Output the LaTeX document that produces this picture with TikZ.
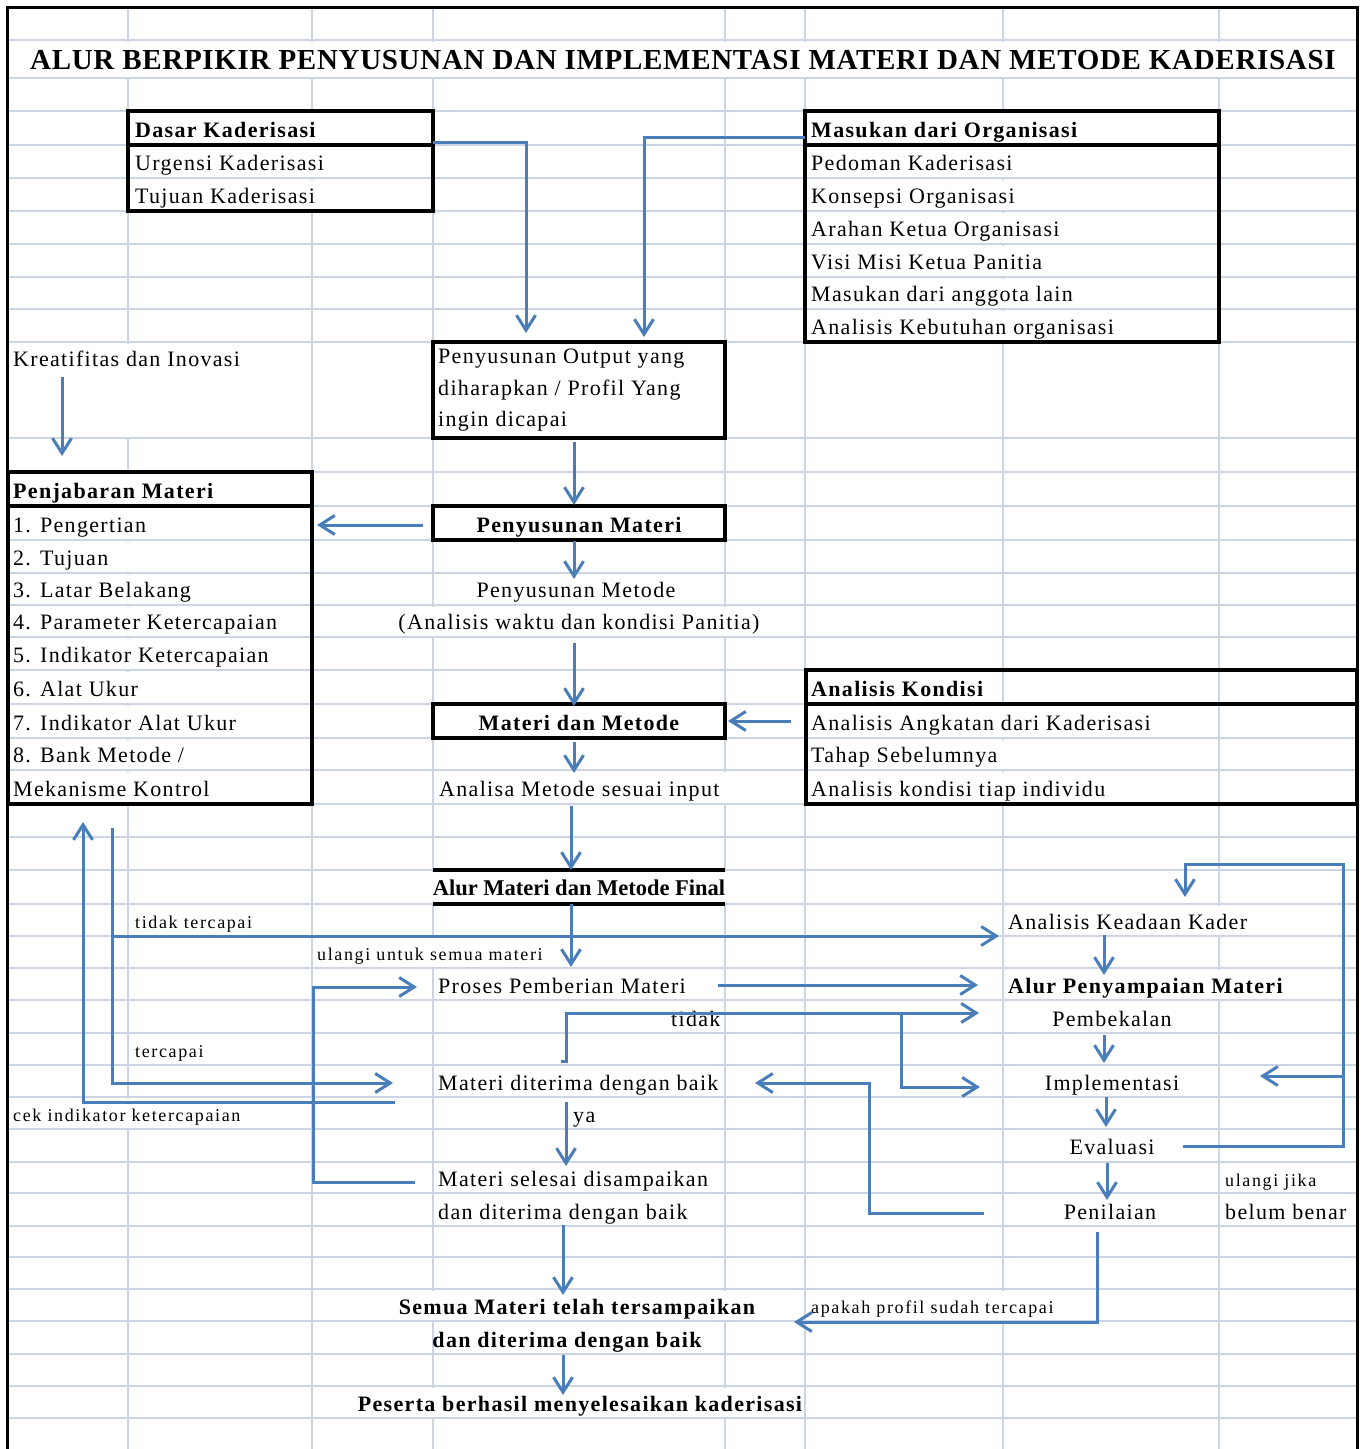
\documentclass[tikz,border=0pt]{standalone}
\usepackage{fontspec}
\setmainfont{Liberation Serif}
\newfontfamily\nf[LetterSpace=6]{Liberation Serif}
\newfontfamily\smf[LetterSpace=9]{Liberation Serif}
\newfontfamily\ttlf[LetterSpace=2.4]{Liberation Serif}
\newfontfamily\plf{Liberation Serif}
\usetikzlibrary{arrows.meta}
\definecolor{gridc}{HTML}{CCD5E4}
\definecolor{arrc}{HTML}{4A7EBB}
\newcommand\msk[4]{\fill[white] (#1,#3+1.5) rectangle (#2,#4-1.5);}
\tikzset{
  gridline/.style={draw=gridc, line width=2.2pt},
  boxn/.style={draw=black, line width=3.2pt, inner sep=0pt, outer sep=0pt, anchor=north west},
  boxline/.style={draw=black, line width=3.2pt},
  txt/.style={inner sep=0pt, anchor=base west, font=\nf\fontsize{22}{26}\selectfont},
  txtc/.style={txt, anchor=base},
  bld/.style={inner sep=0pt, anchor=base west, font=\nf\bfseries\fontsize{22}{26}\selectfont},
  bldc/.style={bld, anchor=base},
  sml/.style={inner sep=0pt, anchor=base west, font=\smf\fontsize{18}{22}\selectfont},
  arr/.style={draw=arrc, line width=3pt, -{Straight Barb[length=15pt,width=19pt,line width=3pt]}}
}
\begin{document}
\begin{tikzpicture}[x=1pt,y=-1pt]
\useasboundingbox (0,0) rectangle (1367,1449);
\fill[white] (0,0) rectangle (1367,1449);
% ---------- grid ----------
\foreach \y in {40,78,111,145,178,211,244,277,309,342,438,472,506,540,573,605,637,670,704,738,770,804,837,870,904,936,968,1000,1033,1065,1097,1129,1162,1193,1226,1257,1289,1321,1354,1386,1418}
  \draw[gridline] (7,\y) -- (1357,\y);
\foreach \x in {128,312,433,725,805,1003,1219}
  \draw[gridline] (\x,7) -- (\x,1449);
% ---------- hidden grid parts (overflowing text / merged cells) ----------
\msk{9}{1355}{40}{78}
\foreach \a/\b in {111/145,145/178,178/211} {\msk{300}{325}{\a}{\b}}
\foreach \a/\b in {111/145,145/178,178/211,211/244,244/277,277/309,309/342} {\msk{990}{1015}{\a}{\b}}
\msk{115}{140}{342}{438}
\foreach \a/\b in {472/506,506/540,540/573,573/605,605/637,637/670,670/704,704/738,738/770,770/804} {\msk{115}{140}{\a}{\b}}
\msk{420}{445}{605}{637}
\msk{712}{738}{605}{637}
\msk{712}{738}{770}{804}
\foreach \a/\b in {704/738,738/770,770/804} {\msk{990}{1015}{\a}{\b}}
\msk{420}{738}{870}{904}
\msk{1206}{1232}{904}{936}
\msk{420}{445}{936}{968}
\msk{1206}{1232}{968}{1000}
\msk{115}{140}{1097}{1129}
\msk{420}{445}{1289}{1321}
\msk{712}{738}{1289}{1321}
\msk{990}{1015}{1289}{1321}
\msk{420}{445}{1386}{1418}
\msk{712}{738}{1386}{1418}
% ---------- sheet border ----------
\draw[line width=3pt] (7,1449) -- (7,7) -- (1357,7) -- (1357,1449);
% ---------- title ----------
\node[inner sep=0pt, anchor=base, font=\ttlf\bfseries\fontsize{29}{33}\selectfont] (title) at (683,69)
  {ALUR BERPIKIR PENYUSUNAN DAN IMPLEMENTASI MATERI DAN METODE KADERISASI};
% ---------- boxes ----------
\node[boxn, minimum width=305pt, minimum height=100pt] (dasar) at (128,111) {};
\draw[boxline] (128,145) -- (433,145);
\node[boxn, minimum width=414pt, minimum height=231pt] (masukan) at (805,111) {};
\draw[boxline] (805,145) -- (1219,145);
\node[boxn, minimum width=292pt, minimum height=96pt] (output) at (433,342) {};
\node[boxn, minimum width=304pt, minimum height=332pt] (penjabaran) at (8,472) {};
\draw[boxline] (8,506) -- (312,506);
\node[boxn, minimum width=292pt, minimum height=34pt] (penymateri) at (433,506) {};
\node[boxn, minimum width=292pt, minimum height=34pt] (mdm) at (433,704) {};
\node[boxn, minimum width=551pt, minimum height=134pt] (akondisi) at (806,670) {};
\draw[boxline] (806,704) -- (1357,704);
\draw[line width=3.6pt] (433,870) -- (725,870);
\draw[line width=3.6pt] (433,904) -- (725,904);
% ---------- texts ----------
\node[bld] (dasarH) at (135,137) {Dasar Kaderisasi};
\node[txt] (urg) at (135,170) {Urgensi Kaderisasi};
\node[txt] (tuj) at (135,203) {Tujuan Kaderisasi};
\node[bld] (masH) at (811,137) {Masukan dari Organisasi};
\node[txt] (m1) at (811,170) {Pedoman Kaderisasi};
\node[txt] (m2) at (811,203) {Konsepsi Organisasi};
\node[txt] (m3) at (811,236) {Arahan Ketua Organisasi};
\node[txt] (m4) at (811,269) {Visi Misi Ketua Panitia};
\node[txt] (m5) at (811,301) {Masukan dari anggota lain};
\node[txt] (m6) at (811,334) {Analisis Kebutuhan organisasi};
\node[txt] (kreatif) at (13,366) {Kreatifitas dan Inovasi};
\node[txt] (o1) at (438,363) {Penyusunan Output yang};
\node[txt] (o2) at (438,395) {diharapkan / Profil Yang};
\node[txt] (o3) at (438,426) {ingin dicapai};
\node[bld] (pjH) at (13,498) {Penjabaran Materi};
\node[txt] (p1) at (13,532) {1. Pengertian};
\node[txt] (p2) at (13,565) {2. Tujuan};
\node[txt] (p3) at (13,597) {3. Latar Belakang};
\node[txt] (p4) at (13,629) {4. Parameter Ketercapaian};
\node[txt] (p5) at (13,662) {5. Indikator Ketercapaian};
\node[txt] (p6) at (13,696) {6. Alat Ukur};
\node[txt] (p7) at (13,730) {7. Indikator Alat Ukur};
\node[txt] (p8) at (13,762) {8. Bank Metode /};
\node[txt] (p9) at (13,796) {Mekanisme Kontrol};
\node[bldc] (pmT) at (579,532) {Penyusunan Materi};
\node[txtc] (metode) at (576,597) {Penyusunan Metode};
\node[txtc] (metode2) at (579,629) {(Analisis waktu dan kondisi Panitia)};
\node[bldc] (mdmT) at (579,730) {Materi dan Metode};
\node[txt] (analisa) at (439,796) {Analisa Metode sesuai input};
\node[bld] (akH) at (811,696) {Analisis Kondisi};
\node[txt] (ak1) at (811,730) {Analisis Angkatan dari Kaderisasi};
\node[txt] (ak2) at (811,762) {Tahap Sebelumnya};
\node[txt] (ak3) at (811,796) {Analisis kondisi tiap individu};
\node[inner sep=0pt, anchor=base, font=\plf\bfseries\fontsize{22.5}{26}\selectfont] (alur) at (579,895) {Alur Materi dan Metode Final};
\node[sml] (ttc) at (135,928) {tidak tercapai};
\node[txt] (keadaan) at (1008,929) {Analisis Keadaan Kader};
\node[sml] (ulang) at (317,960) {ulangi untuk semua materi};
\node[txt] (proses) at (438,993) {Proses Pemberian Materi};
\node[bld] (alurp) at (1008,993) {Alur Penyampaian Materi};
\node[txt] (tidak) at (671,1026) {tidak};
\node[txtc] (pembek) at (1112,1026) {Pembekalan};
\node[sml] (tc) at (135,1057) {tercapai};
\node[txt] (diterima) at (438,1090) {Materi diterima dengan baik};
\node[txtc] (impl) at (1112,1090) {Implementasi};
\node[sml] (cek) at (13,1121) {cek indikator ketercapaian};
\node[txt] (ya) at (573,1122) {ya};
\node[txtc] (eval) at (1112,1154) {Evaluasi};
\node[sml] (ulangij) at (1225,1186) {ulangi jika};
\node[txt] (selesai) at (438,1186) {Materi selesai disampaikan};
\node[txt] (selesai2) at (438,1219) {dan diterima dengan baik};
\node[txtc] (nilai) at (1110,1219) {Penilaian};
\node[txt] (belum) at (1225,1219) {belum benar};
\node[bldc] (semua) at (577,1314) {Semua Materi telah tersampaikan};
\node[sml] (apakah) at (811,1313) {apakah profil sudah tercapai};
\node[bldc] (semua2) at (567,1347) {dan diterima dengan baik};
\node[bldc] (peserta) at (580,1411) {Peserta berhasil menyelesaikan kaderisasi};
% ---------- connector end points ----------
\coordinate (dasarOut) at (433,142);
\coordinate (outIn1) at (526,333);
\coordinate (masOut) at (805,137);
\coordinate (outIn2) at (644,337);
\coordinate (krOut) at (62,377);
\coordinate (pjIn) at (62,456);
\coordinate (outBot) at (574,442);
\coordinate (pmTop) at (574,505);
\coordinate (pmLeft) at (423,525);
\coordinate (pjRight) at (317,525);
\coordinate (pmBot) at (574,541);
\coordinate (metTop) at (574,579);
\coordinate (metBot) at (574,643);
\coordinate (mdmTop) at (574,706);
\coordinate (akOut) at (791,721);
\coordinate (mdmRight) at (728,721);
\coordinate (mdmBot) at (574,742);
\coordinate (anTop) at (574,773);
\coordinate (anBot) at (571,806);
\coordinate (alTop) at (571,870);
\coordinate (alBot) at (571,904);
\coordinate (prTop) at (571,967);
\coordinate (pjBot) at (112,828);
\coordinate (ditLeft) at (393,1083);
\coordinate (brT) at (112,936);
\coordinate (kdLeft) at (999,936);
\coordinate (cekS) at (395,1102);
\coordinate (pjBot2) at (83,822);
\coordinate (selLeft) at (415,1182);
\coordinate (loopC) at (313,987);
\coordinate (prLeft) at (417,987);
\coordinate (prRight) at (718,985);
\coordinate (apLeft) at (978,985);
\coordinate (tdS) at (561,1061);
\coordinate (tdS2) at (566,1061);
\coordinate (pbLeft) at (979,1013);
\coordinate (tdBr) at (901,1013);
\coordinate (imLeft) at (980,1087);
\coordinate (ditBot) at (566,1102);
\coordinate (selTop) at (566,1166);
\coordinate (nlLeft) at (984,1213);
\coordinate (nlC) at (869,1083);
\coordinate (ditRight) at (755,1083);
\coordinate (selBot) at (563,1225);
\coordinate (smTop) at (563,1295);
\coordinate (smBot) at (563,1355);
\coordinate (psTop) at (563,1395);
\coordinate (nlBot) at (1097,1232);
\coordinate (smRight) at (794,1322);
\coordinate (evRight) at (1183,1146);
\coordinate (loopR) at (1343,864);
\coordinate (kdTop) at (1185,897);
\coordinate (brR) at (1343,1076);
\coordinate (imRight) at (1260,1076);
\coordinate (kdBot) at (1104,935);
\coordinate (apTop) at (1104,975);
\coordinate (pbBot) at (1104,1035);
\coordinate (imTop) at (1104,1063);
\coordinate (imBot) at (1106,1097);
\coordinate (evTop) at (1106,1127);
\coordinate (evBot) at (1107,1163);
\coordinate (nlTop) at (1107,1200);
% ---------- connectors ----------
\draw[arr] (dasarOut) -| (outIn1);
\draw[arr] (masOut) -| (outIn2);
\draw[arr] (krOut) -- (pjIn);
\draw[arr] (outBot) -- (pmTop);
\draw[arr] (pmLeft) -- (pjRight);
\draw[arr] (pmBot) -- (metTop);
\draw[arr] (metBot) -- (mdmTop);
\draw[arr] (akOut) -- (mdmRight);
\draw[arr] (mdmBot) -- (anTop);
\draw[arr] (anBot) -- (alTop);
\draw[arr] (alBot) -- (prTop);
\draw[arr] (pjBot) |- (ditLeft);
\draw[arr] (brT) -- (kdLeft);
\draw[arr] (cekS) -| (pjBot2);
\draw[arr] (selLeft) -| (loopC) -- (prLeft);
\draw[arr] (prRight) -- (apLeft);
\draw[arr] (tdS) -- (tdS2) |- (pbLeft);
\draw[arr] (tdBr) |- (imLeft);
\draw[arr] (ditBot) -- (selTop);
\draw[arr] (nlLeft) -| (nlC) -- (ditRight);
\draw[arr] (selBot) -- (smTop);
\draw[arr] (smBot) -- (psTop);
\draw[arr] (nlBot) |- (smRight);
\draw[arr] (evRight) -| (loopR) -| (kdTop);
\draw[arr] (brR) -- (imRight);
\draw[arr] (kdBot) -- (apTop);
\draw[arr] (pbBot) -- (imTop);
\draw[arr] (imBot) -- (evTop);
\draw[arr] (evBot) -- (nlTop);
\end{tikzpicture}
\end{document}
